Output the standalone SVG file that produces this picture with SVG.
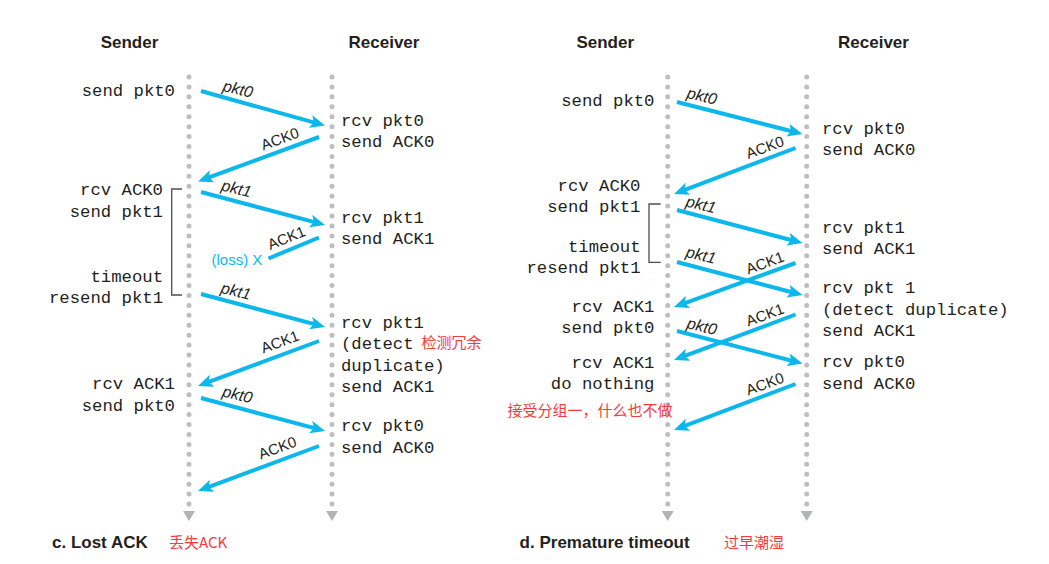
<svg xmlns="http://www.w3.org/2000/svg" width="1049" height="564" viewBox="0 0 1049 564">
<style>
.bg{fill:#ffffff}
.life{stroke:#bcbec0;stroke-width:5;stroke-linecap:round;stroke-dasharray:0 9.93;fill:none}
.tri{fill:#b1b3b6}
.hdr{font-family:"Liberation Sans",Arial,sans-serif;font-weight:bold;font-size:17px;fill:#231f20}
.mono{font-family:"Liberation Mono","Courier New",monospace;font-size:17.3px;fill:#231f20}
.end{text-anchor:end}
.lbl{font-family:"Liberation Sans",Arial,sans-serif;font-size:15px;fill:#231f20;text-anchor:middle}
.it{font-style:italic;font-size:16px}
.msg{stroke:#0cb7eb;stroke-width:4;fill:none}
.loss{font-family:"Liberation Sans",Arial,sans-serif;font-size:15px;fill:#0cb7eb}
.red{font-family:"Noto Sans CJK SC","Noto Sans",sans-serif;font-size:15px;fill:#f23c3c}
.brk{stroke:#4d4d4f;stroke-width:1.3;fill:none}
</style>
<defs>
<marker id="ah" markerUnits="userSpaceOnUse" markerWidth="15" markerHeight="13" viewBox="0 0 15 13" refX="7" refY="6.5" orient="auto">
<path d="M0,0 L15,6.5 L0,13 L3.5,6.5 z" fill="#0cb7eb"/>
</marker>
</defs>
<rect class="bg" x="0" y="0" width="1049" height="564"/>

<g id="left-sender">
<text class="hdr" x="129.5" y="48" text-anchor="middle">Sender</text>
<line class="life" x1="189" y1="77" x2="189" y2="504"/>
<polygon class="tri" points="183,511 195,511 189,521"/>
<text class="mono end" x="175" y="96">send pkt0</text>
<text class="mono end" x="163" y="195">rcv ACK0</text>
<text class="mono end" x="163" y="217">send pkt1</text>
<text class="mono end" x="163" y="282">timeout</text>
<text class="mono end" x="163" y="303">resend pkt1</text>
<text class="mono end" x="175" y="389">rcv ACK1</text>
<text class="mono end" x="175" y="411">send pkt0</text>
<path class="brk" d="M182,189 H171.7 V295 H182"/>
</g>

<g id="left-receiver">
<text class="hdr" x="384" y="48" text-anchor="middle">Receiver</text>
<line class="life" x1="332" y1="77" x2="332" y2="504"/>
<polygon class="tri" points="326,511 338,511 332,521"/>
<text class="mono" x="341" y="126">rcv pkt0</text>
<text class="mono" x="341" y="147">send ACK0</text>
<text class="mono" x="341" y="223">rcv pkt1</text>
<text class="mono" x="341" y="244">send ACK1</text>
<text class="mono" x="341" y="328">rcv pkt1</text>
<text class="mono" x="341" y="349">(detect</text>
<text class="mono" x="341" y="371">duplicate)</text>
<text class="mono" x="341" y="392">send ACK1</text>
<text class="mono" x="341" y="431">rcv pkt0</text>
<text class="mono" x="341" y="453">send ACK0</text>
<text class="red" x="421.5" y="347.5">检测冗余</text>
</g>

<g id="left-caption">
<text class="hdr" x="52" y="548">c. Lost ACK</text>
<text class="red" x="169" y="547.5">丢失ACK</text>
</g>

<g id="right-sender">
<text class="hdr" x="605.2" y="48" text-anchor="middle">Sender</text>
<line class="life" x1="667.7" y1="77" x2="667.7" y2="504"/>
<polygon class="tri" points="661.7,511 673.7,511 667.7,521"/>
<text class="mono end" x="654.5" y="106">send pkt0</text>
<text class="mono end" x="640.5" y="191">rcv ACK0</text>
<text class="mono end" x="640.5" y="212">send pkt1</text>
<text class="mono end" x="640.5" y="252">timeout</text>
<text class="mono end" x="640.5" y="273">resend pkt1</text>
<text class="mono end" x="654.5" y="312">rcv ACK1</text>
<text class="mono end" x="654.5" y="333">send pkt0</text>
<text class="mono end" x="654.5" y="368">rcv ACK1</text>
<text class="mono end" x="654.5" y="389">do nothing</text>
<path class="brk" d="M660.7,204 H649 V262.3 H660.7"/>
<text class="red" x="507.5" y="415.5">接受分组一，什么也不做</text>
</g>

<g id="right-receiver">
<text class="hdr" x="873.5" y="48" text-anchor="middle">Receiver</text>
<line class="life" x1="806.7" y1="77" x2="806.7" y2="504"/>
<polygon class="tri" points="800.7,511 812.7,511 806.7,521"/>
<text class="mono" x="822" y="134">rcv pkt0</text>
<text class="mono" x="822" y="155">send ACK0</text>
<text class="mono" x="822" y="233">rcv pkt1</text>
<text class="mono" x="822" y="254">send ACK1</text>
<text class="mono" x="822" y="293">rcv pkt 1</text>
<text class="mono" x="822" y="315">(detect duplicate)</text>
<text class="mono" x="822" y="336">send ACK1</text>
<text class="mono" x="822" y="367">rcv pkt0</text>
<text class="mono" x="822" y="389">send ACK0</text>
</g>

<g id="right-caption">
<text class="hdr" x="519.6" y="548">d. Premature timeout</text>
<text class="red" x="724" y="547.5">过早潮湿</text>
</g>

<g id="connectors">
<line class="msg" x1="201" y1="91" x2="317.3" y2="123.4" marker-end="url(#ah)"/>
<line class="msg" x1="319" y1="137" x2="205.5" y2="178.7" marker-end="url(#ah)"/>
<line class="msg" x1="201" y1="192" x2="317.3" y2="222.9" marker-end="url(#ah)"/>
<line class="msg" x1="319" y1="237.5" x2="268.5" y2="258.5"/>
<line class="msg" x1="201" y1="294" x2="317.3" y2="324.9" marker-end="url(#ah)"/>
<line class="msg" x1="319" y1="341" x2="205.5" y2="383.2" marker-end="url(#ah)"/>
<line class="msg" x1="201" y1="398" x2="317.3" y2="428.9" marker-end="url(#ah)"/>
<line class="msg" x1="319" y1="446" x2="205.5" y2="488.2" marker-end="url(#ah)"/>

<line class="msg" x1="677" y1="102" x2="794.7" y2="132" marker-end="url(#ah)"/>
<line class="msg" x1="795.5" y1="148" x2="681.5" y2="191.2" marker-end="url(#ah)"/>
<line class="msg" x1="677" y1="210" x2="794.8" y2="241" marker-end="url(#ah)"/>
<line class="msg" x1="677" y1="262" x2="794.8" y2="293" marker-end="url(#ah)"/>
<line class="msg" x1="795.5" y1="263" x2="681.5" y2="304.3" marker-end="url(#ah)"/>
<line class="msg" x1="795.5" y1="314.5" x2="681.5" y2="357.2" marker-end="url(#ah)"/>
<line class="msg" x1="677" y1="331" x2="794.8" y2="361.5" marker-end="url(#ah)"/>
<line class="msg" x1="795.5" y1="384" x2="681.5" y2="427.2" marker-end="url(#ah)"/>

<text class="lbl it" transform="translate(238,89.5) rotate(14)" x="0" y="5">pkt0</text>
<text class="lbl" transform="translate(280,139) rotate(-20)" x="0" y="5">ACK0</text>
<text class="lbl it" transform="translate(236.5,189) rotate(14)" x="0" y="5">pkt1</text>
<text class="lbl" transform="translate(286.5,238) rotate(-22)" x="0" y="5">ACK1</text>
<text class="loss" x="211.5" y="265">(loss) X</text>
<text class="lbl it" transform="translate(236,291.5) rotate(14)" x="0" y="5">pkt1</text>
<text class="lbl" transform="translate(280,342) rotate(-20)" x="0" y="5">ACK1</text>
<text class="lbl it" transform="translate(237.5,395) rotate(14)" x="0" y="5">pkt0</text>
<text class="lbl" transform="translate(277.5,448) rotate(-20)" x="0" y="5">ACK0</text>

<text class="lbl it" transform="translate(702,96.5) rotate(14)" x="0" y="5">pkt0</text>
<text class="lbl" transform="translate(765,147.5) rotate(-20)" x="0" y="5">ACK0</text>
<text class="lbl it" transform="translate(701,205) rotate(14)" x="0" y="5">pkt1</text>
<text class="lbl it" transform="translate(701,255.5) rotate(14)" x="0" y="5">pkt1</text>
<text class="lbl" transform="translate(765,263) rotate(-20)" x="0" y="5">ACK1</text>
<text class="lbl" transform="translate(765,315) rotate(-20)" x="0" y="5">ACK1</text>
<text class="lbl it" transform="translate(702,326.7) rotate(14)" x="0" y="5">pkt0</text>
<text class="lbl" transform="translate(765,384) rotate(-20)" x="0" y="5">ACK0</text>
</g>
</svg>
